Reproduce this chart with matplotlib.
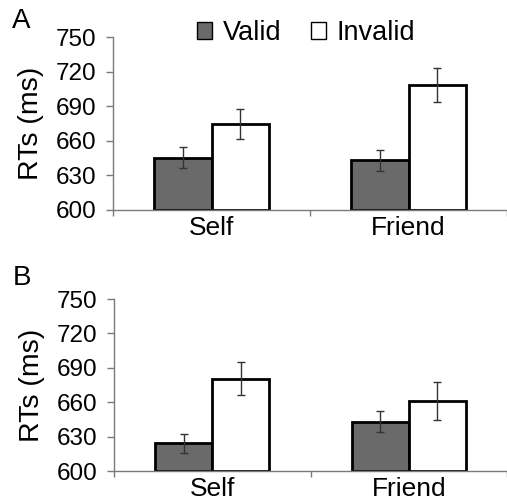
import matplotlib
matplotlib.use("Agg")
import matplotlib.pyplot as plt
import numpy as np
from matplotlib.patches import Patch

plt.rcParams['font.family'] = ['Liberation Sans', 'DejaVu Sans']

categories = ["Self", "Friend"]
series_names = ["Valid", "Invalid"]
panel_labels = ["A", "B"]

# Panel A
a_valid = [645.5, 643.0]
a_invalid = [674.5, 708.5]
a_valid_err = [9.0, 8.8]
a_invalid_err = [13.3, 14.7]

# Panel B
b_valid = [624.3, 643.0]
b_invalid = [680.3, 661.0]
b_valid_err = [8.3, 9.3]
b_invalid_err = [14.4, 16.5]

yticks = [600, 630, 660, 690, 720, 750]

valid_color = "#6a6a6a"
invalid_color = "#ffffff"
spine_color = "#7a7a7a"

fig = plt.figure(figsize=(5.07, 5.01), dpi=100)
ax_a = fig.add_axes([113/507, 1-210/501, 394/507, 173/501])
ax_b = fig.add_axes([114/507, 1-471/501, 393/507, 172/501])

bw = 0.29
for ax, vals_v, vals_i, err_v, err_i, lab in [
    (ax_a, a_valid, a_invalid, a_valid_err, a_invalid_err, panel_labels[0]),
    (ax_b, b_valid, b_invalid, b_valid_err, b_invalid_err, panel_labels[1]),
]:
    x = np.arange(len(categories)) + 0.5
    ax.bar(x - bw/2, np.array(vals_v) - 600, bw, bottom=600, color=valid_color,
           edgecolor="black", linewidth=2.0, zorder=2)
    ax.bar(x + bw/2, np.array(vals_i) - 600, bw, bottom=600, color=invalid_color,
           edgecolor="black", linewidth=2.0, zorder=2)
    ax.errorbar(x - bw/2, vals_v, yerr=err_v, fmt='none', ecolor="#333333",
                elinewidth=1.0, capsize=3, capthick=1.0, zorder=3)
    ax.errorbar(x + bw/2, vals_i, yerr=err_i, fmt='none', ecolor="#333333",
                elinewidth=1.0, capsize=3, capthick=1.0, zorder=3)
    ax.set_xlim(0, 2)
    ax.set_ylim(600, 750)
    ax.set_yticks(yticks)
    ax.set_yticklabels([str(t) for t in yticks], fontsize=17.5)
    ax.set_xticks([0, 1, 2])
    ax.set_xticklabels([])
    ax.set_xticks(x, minor=True)
    ax.set_xticklabels(categories, minor=True, fontsize=19)
    ax.tick_params(axis='x', which='minor', length=0, pad=4)
    ax.tick_params(axis='x', which='major', length=4, width=1, color=spine_color, direction='out')
    ax.tick_params(axis='y', length=5, width=1, color=spine_color, pad=7, direction='out')
    for s in ["top", "right"]:
        ax.spines[s].set_visible(False)
    for s in ["left", "bottom"]:
        ax.spines[s].set_color(spine_color)
        ax.spines[s].set_linewidth(1.0)
    ax.text(-0.208, 0.5, "RTs (ms)", transform=ax.transAxes, rotation=90,
            ha='center', va='center', fontsize=20.5)
    ax.patch.set_visible(False)

fig.text(12/507, 1-21/501, panel_labels[0], fontsize=20, ha='left', va='center')
fig.text(13/507, 1-278/501, panel_labels[1], fontsize=20, ha='left', va='center')

handles = [Patch(facecolor=valid_color, edgecolor="black", linewidth=1.0),
           Patch(facecolor=invalid_color, edgecolor="black", linewidth=1.0)]
fig.legend(handles, series_names, loc='center', bbox_to_anchor=(306/507, 1-33/501),
           ncol=2, frameon=False, fontsize=19.5, handlelength=0.55, handleheight=0.55,
           handletextpad=0.4, columnspacing=1.1, borderpad=0)

fig.savefig("out.png", dpi=100)
